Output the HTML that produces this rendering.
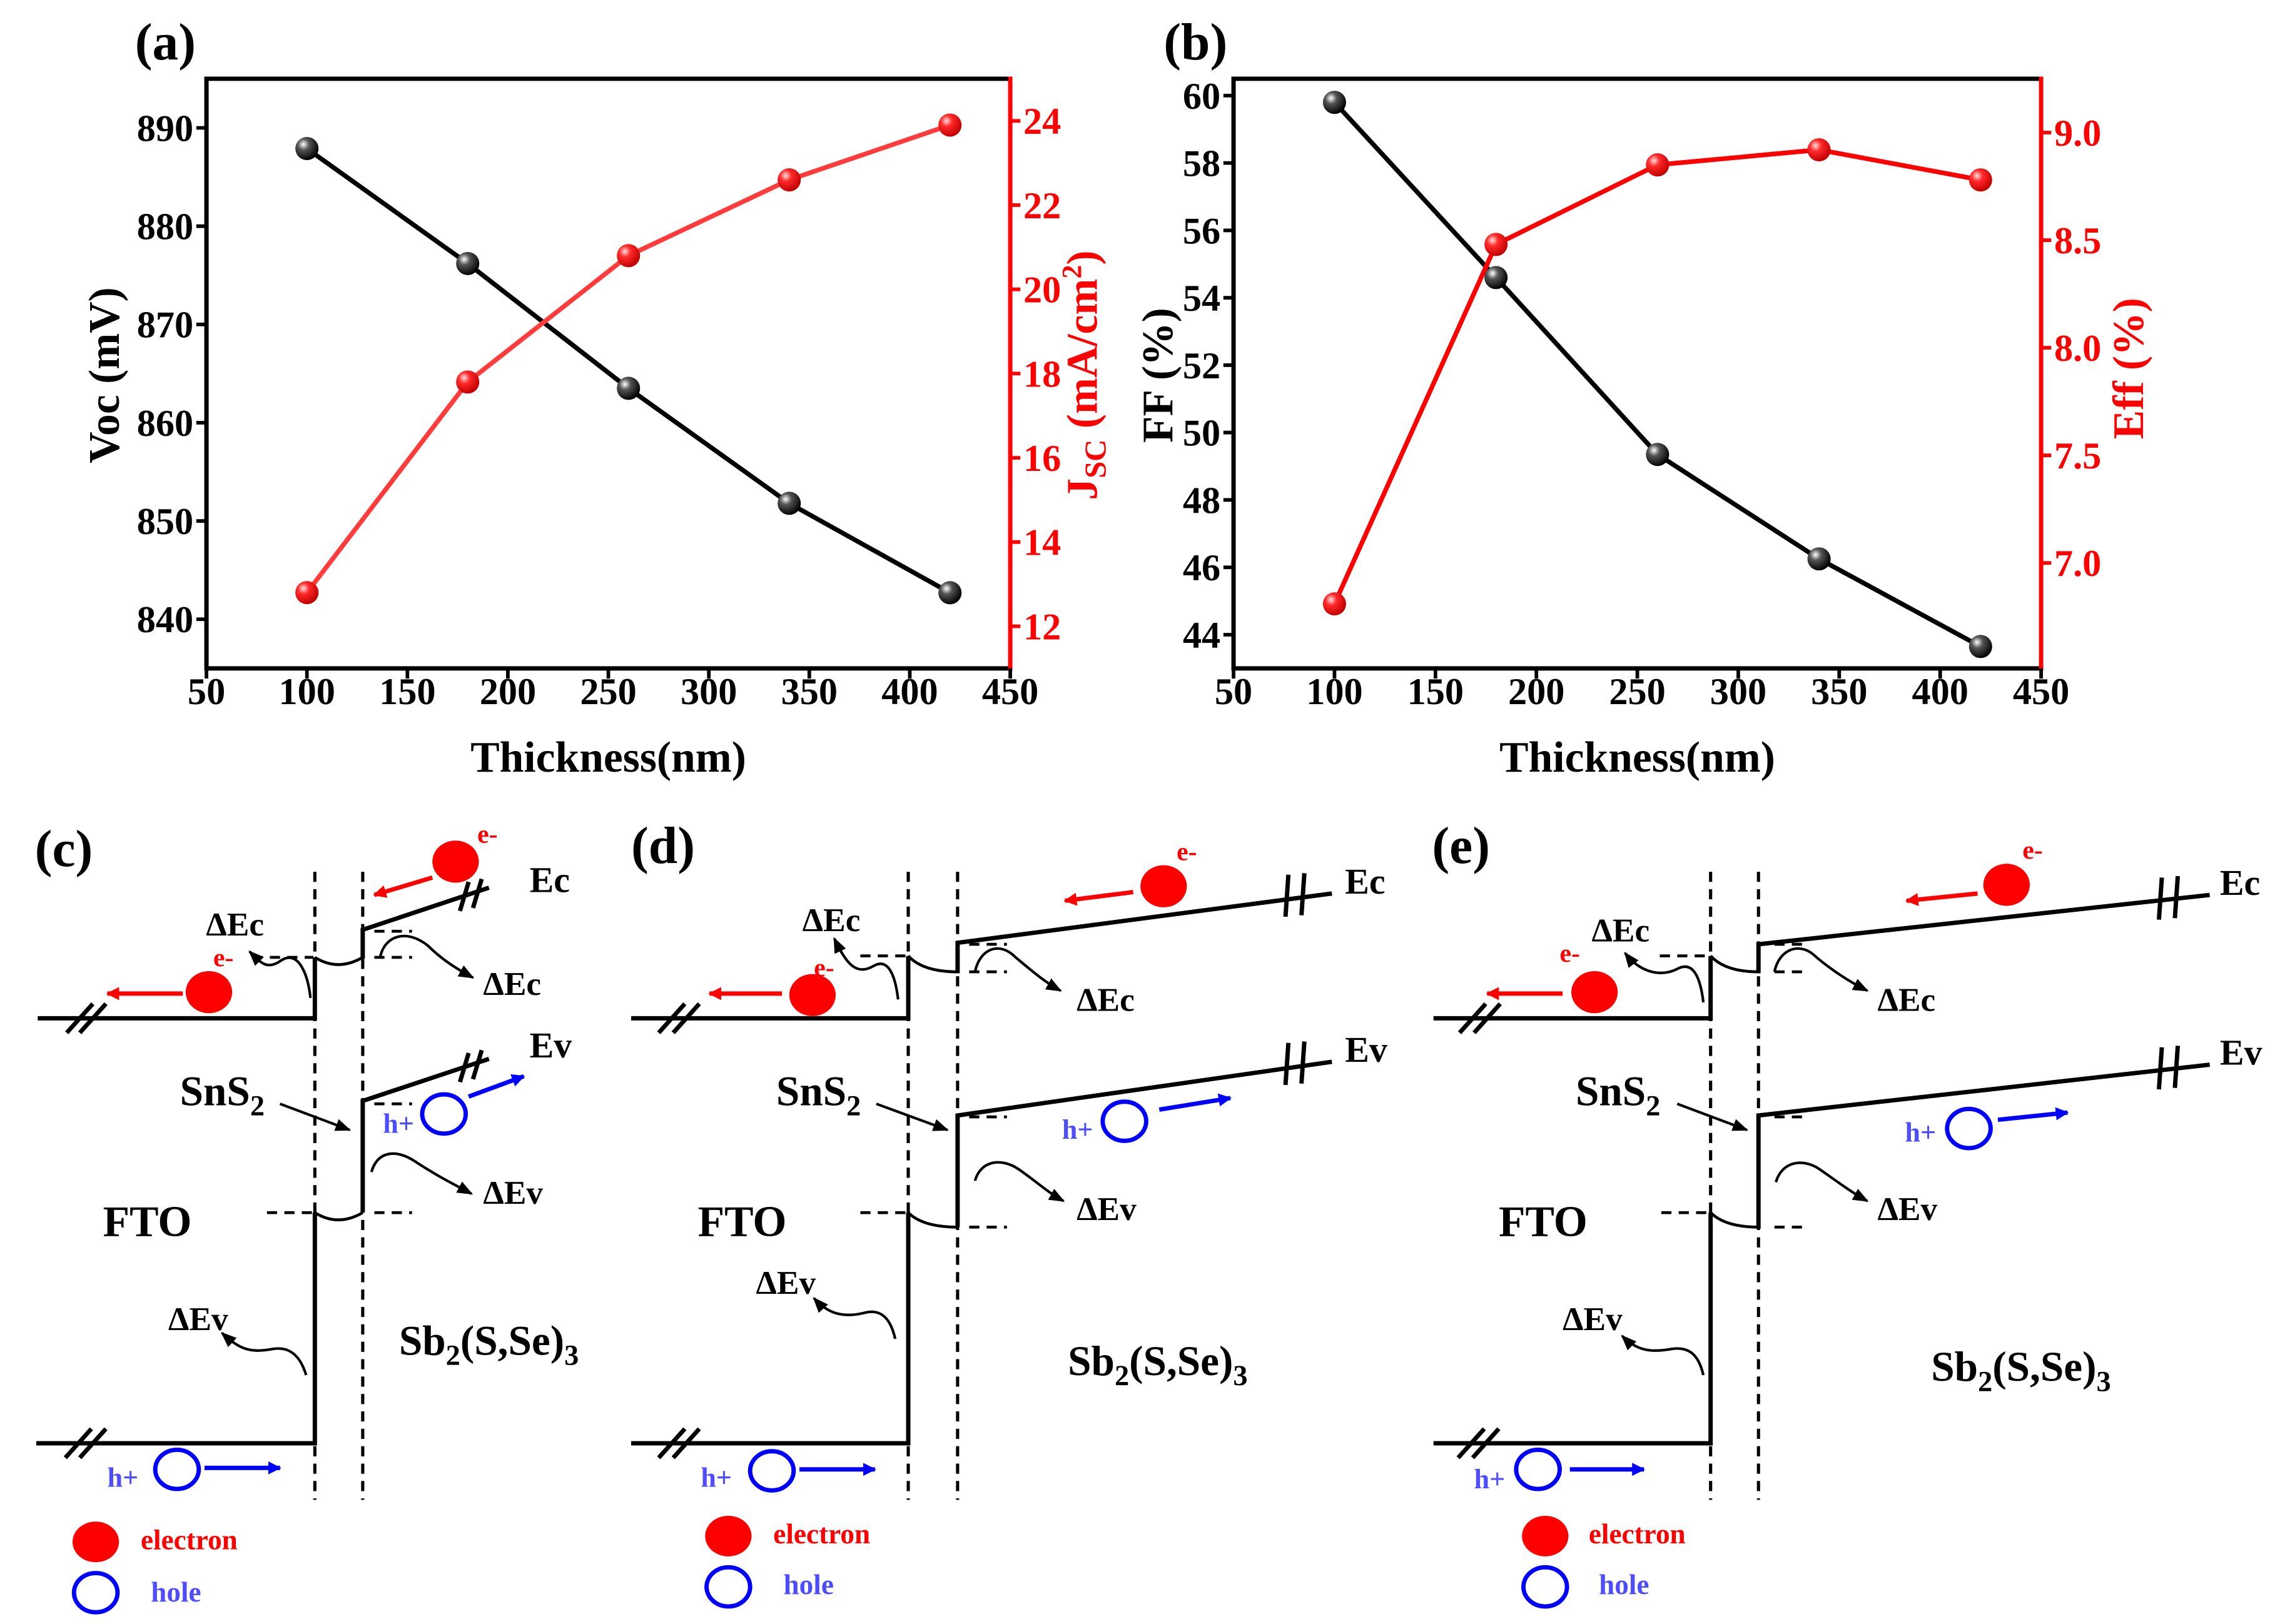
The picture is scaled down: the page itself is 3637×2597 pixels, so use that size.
<!DOCTYPE html>
<html><head><meta charset="utf-8"><style>
html,body{margin:0;padding:0;background:#fff;}
svg{display:block;font-family:"Liberation Serif",serif;}
text{font-family:"Liberation Serif",serif;font-weight:bold;}
</style></head><body>
<svg id="fig" xmlns="http://www.w3.org/2000/svg" width="3637" height="2597" viewBox="0 0 1568 1119.6" preserveAspectRatio="none" font-family="Liberation Serif, serif" font-weight="bold">
<defs>
<radialGradient id="gk" cx="0.35" cy="0.32" r="0.7"><stop offset="0" stop-color="#ffffff"/><stop offset="0.35" stop-color="#555"/><stop offset="1" stop-color="#000"/></radialGradient>
<radialGradient id="gr" cx="0.35" cy="0.32" r="0.7"><stop offset="0" stop-color="#ffe0e0"/><stop offset="0.35" stop-color="#ff2a2a"/><stop offset="1" stop-color="#c00000"/></radialGradient>
<marker id="ak" viewBox="0 0 10 10" refX="9" refY="5" markerWidth="6" markerHeight="6" orient="auto"><path d="M0,1 L10,5 L0,9 z" fill="#000"/></marker>
<marker id="ar" viewBox="0 0 10 10" refX="9" refY="5" markerWidth="3" markerHeight="3" orient="auto"><path d="M0,0 L10,5 L0,10 z" fill="#ff0000"/></marker>
<marker id="ab" viewBox="0 0 10 10" refX="9" refY="5" markerWidth="3" markerHeight="3" orient="auto"><path d="M0,0 L10,5 L0,10 z" fill="#0000ff"/></marker>
</defs>
<g id="charts"></g>

<!-- Panel (c) -->
<g fill="none" stroke="#000">
<text x="24" y="597" font-size="36" fill="#000" stroke="none">(c)</text>
<line x1="217" y1="601" x2="217" y2="1034" stroke-width="2.2" stroke-dasharray="7,5"/>
<line x1="250" y1="601" x2="250" y2="1034" stroke-width="2.2" stroke-dasharray="7,5"/>
<polyline points="26,702 217,702 217,660" stroke-width="3"/>
<path d="M217,660 Q233,670 250,660" stroke-width="2"/>
<polyline points="250,661 250,641 337,612" stroke-width="3"/>
<polyline points="250,836 250,759 337,730" stroke-width="3"/>
<polyline points="25,995 217,995 217,836" stroke-width="3"/>
<path d="M217,836 Q233,846 250,836" stroke-width="2"/>
<g stroke-width="3">
<line x1="46" y1="712" x2="64" y2="692"/><line x1="55" y1="712" x2="73" y2="692"/>
<line x1="45" y1="1005" x2="63" y2="985"/><line x1="55" y1="1005" x2="73" y2="985"/>
<line x1="317" y1="628" x2="323" y2="608"/><line x1="326" y1="626" x2="332" y2="606"/>
<line x1="317" y1="746" x2="323" y2="726"/><line x1="326" y1="744" x2="332" y2="724"/>
</g>
<g stroke-width="2" stroke-dasharray="7,5">
<line x1="174" y1="660" x2="216" y2="660"/><line x1="258" y1="660" x2="284" y2="660"/><line x1="258" y1="642" x2="284" y2="642"/>
<line x1="184" y1="836" x2="216" y2="836"/><line x1="258" y1="836" x2="284" y2="836"/><line x1="258" y1="761" x2="284" y2="761"/>
</g>
<path d="M214,688 C212,670 205,655 194,662 C184,669 180,664 172,656" stroke-width="1.8" marker-end="url(#ak)"/>
<path d="M262,660 C265,645 280,640 295,652 C305,662 315,668 326,674" stroke-width="1.8" marker-end="url(#ak)"/>
<path d="M256,808 C260,794 272,792 285,800 C300,810 312,816 325,823" stroke-width="1.8" marker-end="url(#ak)"/>
<path d="M211,948 C207,935 200,928 188,930 C172,933 165,930 153,919" stroke-width="1.8" marker-end="url(#ak)"/>
<line x1="193" y1="761" x2="241" y2="779" stroke-width="1.8" marker-end="url(#ak)"/>
<line x1="126" y1="685" x2="74" y2="685" stroke="#ff0000" stroke-width="3" marker-end="url(#ar)"/>
<line x1="298" y1="605" x2="258" y2="617" stroke="#ff0000" stroke-width="3" marker-end="url(#ar)"/>
<line x1="323" y1="756" x2="361" y2="742" stroke="#0000ff" stroke-width="3" marker-end="url(#ab)"/>
<line x1="141" y1="1012" x2="193" y2="1012" stroke="#0000ff" stroke-width="3" marker-end="url(#ab)"/>
<ellipse cx="144" cy="684" rx="16" ry="14.5" fill="#ff0000" stroke="none"/>
<ellipse cx="314" cy="594" rx="16" ry="14.5" fill="#ff0000" stroke="none"/>
<ellipse cx="306" cy="768" rx="15" ry="13.5" stroke="#0000ff" stroke-width="3"/>
<ellipse cx="122" cy="1013" rx="15" ry="13.5" stroke="#0000ff" stroke-width="3"/>
<ellipse cx="66" cy="1063" rx="16" ry="14" fill="#ff0000" stroke="none"/>
<ellipse cx="66" cy="1098" rx="15" ry="13.5" stroke="#0000ff" stroke-width="3"/>
<g stroke="none" fill="#000">
<text x="142" y="645" font-size="23">ΔEc</text>
<text x="333" y="686" font-size="23">ΔEc</text>
<text x="333" y="830" font-size="23">ΔEv</text>
<text x="116" y="917" font-size="23">ΔEv</text>
<text x="365" y="615" font-size="25">Ec</text>
<text x="365" y="729" font-size="25">Ev</text>
<text x="71" y="852" font-size="30">FTO</text>
<text x="124" y="762" font-size="29">SnS<tspan font-size="20" dy="7">2</tspan></text>
<text x="275" y="934" font-size="29">Sb<tspan font-size="20" dy="7">2</tspan><tspan dy="-7">(S,Se)</tspan><tspan font-size="20" dy="7">3</tspan></text>
<text x="147" y="666" font-size="18" fill="#ff0000">e-</text>
<text x="329" y="581" font-size="18" fill="#ff0000">e-</text>
<text x="264" y="781" font-size="19" fill="#4d4dff">h+</text>
<text x="74" y="1025" font-size="19" fill="#4d4dff">h+</text>
<text x="97" y="1068" font-size="19.5" fill="#ff0000">electron</text>
<text x="104" y="1104" font-size="19.5" fill="#4d4dff">hole</text>
</g>
</g>

<!-- Panel (d) -->
<g fill="none" stroke="#000">
<text x="435" y="595" font-size="36" fill="#000" stroke="none">(d)</text>
<line x1="626" y1="601" x2="626" y2="1034" stroke-width="2.2" stroke-dasharray="7,5"/>
<line x1="660" y1="601" x2="660" y2="1034" stroke-width="2.2" stroke-dasharray="7,5"/>
<polyline points="435,702 626,702 626,659" stroke-width="3"/>
<path d="M626,659 Q636,670 660,670" stroke-width="2"/>
<polyline points="660,671 660,650 918,616" stroke-width="3"/>
<polyline points="660,846 660,769 918,732" stroke-width="3"/>
<polyline points="435,995 626,995 626,836" stroke-width="3"/>
<path d="M626,836 Q636,846 660,846" stroke-width="2"/>
<g stroke-width="3">
<line x1="454" y1="712" x2="472" y2="692"/><line x1="464" y1="712" x2="482" y2="692"/>
<line x1="454" y1="1005" x2="472" y2="985"/><line x1="464" y1="1005" x2="482" y2="985"/>
<line x1="886" y1="632" x2="888" y2="603"/><line x1="897" y1="631" x2="899" y2="602"/>
<line x1="886" y1="748" x2="888" y2="719"/><line x1="897" y1="747" x2="899" y2="718"/>
</g>
<g stroke-width="2" stroke-dasharray="7,5">
<line x1="593" y1="659" x2="625" y2="659"/><line x1="668" y1="670" x2="694" y2="670"/><line x1="668" y1="651" x2="694" y2="651"/>
<line x1="593" y1="836" x2="625" y2="836"/><line x1="668" y1="846" x2="694" y2="846"/><line x1="668" y1="770" x2="694" y2="770"/>
</g>
<path d="M619,689 C617,672 612,660 602,666 C590,673 583,664 575,647" stroke-width="1.8" marker-end="url(#ak)"/>
<path d="M672,670 C675,655 688,648 700,660 C712,670 720,677 731,683" stroke-width="1.8" marker-end="url(#ak)"/>
<path d="M672,814 C676,800 690,798 702,806 C715,815 722,822 733,828" stroke-width="1.8" marker-end="url(#ak)"/>
<path d="M617,923 C614,910 608,902 596,905 C580,909 570,905 561,895" stroke-width="1.8" marker-end="url(#ak)"/>
<line x1="604" y1="761" x2="653" y2="779" stroke-width="1.8" marker-end="url(#ak)"/>
<line x1="539" y1="685" x2="489" y2="685" stroke="#ff0000" stroke-width="3" marker-end="url(#ar)"/>
<line x1="781" y1="615" x2="734" y2="621" stroke="#ff0000" stroke-width="3" marker-end="url(#ar)"/>
<line x1="799" y1="765" x2="848" y2="757" stroke="#0000ff" stroke-width="3" marker-end="url(#ab)"/>
<line x1="551" y1="1013" x2="603" y2="1013" stroke="#0000ff" stroke-width="3" marker-end="url(#ab)"/>
<ellipse cx="560" cy="686" rx="16" ry="14.5" fill="#ff0000" stroke="none"/>
<ellipse cx="802" cy="611" rx="16" ry="14.5" fill="#ff0000" stroke="none"/>
<ellipse cx="775" cy="773" rx="15" ry="13.5" stroke="#0000ff" stroke-width="3"/>
<ellipse cx="532" cy="1014" rx="15" ry="13.5" stroke="#0000ff" stroke-width="3"/>
<ellipse cx="502" cy="1059" rx="16" ry="14" fill="#ff0000" stroke="none"/>
<ellipse cx="502" cy="1094" rx="15" ry="13.5" stroke="#0000ff" stroke-width="3"/>
<g stroke="none" fill="#000">
<text x="553" y="642" font-size="23">ΔEc</text>
<text x="742" y="697" font-size="23">ΔEc</text>
<text x="742" y="841" font-size="23">ΔEv</text>
<text x="521" y="892" font-size="23">ΔEv</text>
<text x="927" y="616" font-size="25">Ec</text>
<text x="927" y="732" font-size="25">Ev</text>
<text x="481" y="852" font-size="30">FTO</text>
<text x="535" y="762" font-size="29">SnS<tspan font-size="20" dy="7">2</tspan></text>
<text x="736" y="948" font-size="29">Sb<tspan font-size="20" dy="7">2</tspan><tspan dy="-7">(S,Se)</tspan><tspan font-size="20" dy="7">3</tspan></text>
<text x="561" y="673" font-size="18" fill="#ff0000">e-</text>
<text x="811" y="593" font-size="18" fill="#ff0000">e-</text>
<text x="732" y="785" font-size="19" fill="#4d4dff">h+</text>
<text x="483" y="1025" font-size="19" fill="#4d4dff">h+</text>
<text x="533" y="1064" font-size="19.5" fill="#ff0000">electron</text>
<text x="540" y="1099" font-size="19.5" fill="#4d4dff">hole</text>
</g>
</g>

<!-- Panel (e) -->
<g fill="none" stroke="#000">
<text x="987" y="595" font-size="36" fill="#000" stroke="none">(e)</text>
<line x1="1179" y1="601" x2="1179" y2="1034" stroke-width="2.2" stroke-dasharray="7,5"/>
<line x1="1212" y1="601" x2="1212" y2="1034" stroke-width="2.2" stroke-dasharray="7,5"/>
<polyline points="988,702 1179,702 1179,659" stroke-width="3"/>
<path d="M1179,659 Q1189,670 1212,670" stroke-width="2"/>
<polyline points="1212,671 1212,651 1523,617" stroke-width="3"/>
<polyline points="1212,847 1212,769 1523,734" stroke-width="3"/>
<polyline points="988,995 1179,995 1179,836" stroke-width="3"/>
<path d="M1179,836 Q1189,846 1212,846" stroke-width="2"/>
<g stroke-width="3">
<line x1="1006" y1="712" x2="1024" y2="692"/><line x1="1016" y1="712" x2="1034" y2="692"/>
<line x1="1005" y1="1005" x2="1023" y2="985"/><line x1="1015" y1="1005" x2="1033" y2="985"/>
<line x1="1488" y1="634" x2="1490" y2="605"/><line x1="1499" y1="633" x2="1501" y2="604"/>
<line x1="1488" y1="751" x2="1490" y2="722"/><line x1="1499" y1="750" x2="1501" y2="721"/>
</g>
<g stroke-width="2" stroke-dasharray="7,5">
<line x1="1144" y1="659" x2="1178" y2="659"/><line x1="1223" y1="670" x2="1246" y2="670"/><line x1="1223" y1="651" x2="1246" y2="651"/>
<line x1="1145" y1="836" x2="1178" y2="836"/><line x1="1223" y1="846" x2="1246" y2="846"/><line x1="1223" y1="770" x2="1246" y2="770"/>
</g>
<path d="M1174,691 C1172,674 1167,662 1156,668 C1144,674 1130,670 1120,657" stroke-width="1.8" marker-end="url(#ak)"/>
<path d="M1223,670 C1226,655 1240,648 1252,660 C1264,670 1275,677 1287,683" stroke-width="1.8" marker-end="url(#ak)"/>
<path d="M1224,815 C1228,801 1242,798 1254,806 C1267,815 1276,822 1287,828" stroke-width="1.8" marker-end="url(#ak)"/>
<path d="M1174,948 C1171,935 1165,928 1152,930 C1136,933 1127,930 1118,921" stroke-width="1.8" marker-end="url(#ak)"/>
<line x1="1156" y1="761" x2="1204" y2="779" stroke-width="1.8" marker-end="url(#ak)"/>
<line x1="1077" y1="685" x2="1025" y2="685" stroke="#ff0000" stroke-width="3" marker-end="url(#ar)"/>
<line x1="1363" y1="616" x2="1314" y2="621" stroke="#ff0000" stroke-width="3" marker-end="url(#ar)"/>
<line x1="1377" y1="772" x2="1425" y2="767" stroke="#0000ff" stroke-width="3" marker-end="url(#ab)"/>
<line x1="1082" y1="1013" x2="1133" y2="1013" stroke="#0000ff" stroke-width="3" marker-end="url(#ab)"/>
<ellipse cx="1099" cy="684" rx="16" ry="14.5" fill="#ff0000" stroke="none"/>
<ellipse cx="1383" cy="610" rx="16" ry="14.5" fill="#ff0000" stroke="none"/>
<ellipse cx="1357" cy="778" rx="15" ry="13.5" stroke="#0000ff" stroke-width="3"/>
<ellipse cx="1060" cy="1013" rx="15" ry="13.5" stroke="#0000ff" stroke-width="3"/>
<ellipse cx="1065" cy="1059" rx="16" ry="14" fill="#ff0000" stroke="none"/>
<ellipse cx="1065" cy="1094" rx="15" ry="13.5" stroke="#0000ff" stroke-width="3"/>
<g stroke="none" fill="#000">
<text x="1097" y="649" font-size="23">ΔEc</text>
<text x="1294" y="697" font-size="23">ΔEc</text>
<text x="1294" y="841" font-size="23">ΔEv</text>
<text x="1077" y="917" font-size="23">ΔEv</text>
<text x="1530" y="617" font-size="25">Ec</text>
<text x="1530" y="734" font-size="25">Ev</text>
<text x="1033" y="852" font-size="30">FTO</text>
<text x="1086" y="762" font-size="29">SnS<tspan font-size="20" dy="7">2</tspan></text>
<text x="1331" y="952" font-size="29">Sb<tspan font-size="20" dy="7">2</tspan><tspan dy="-7">(S,Se)</tspan><tspan font-size="20" dy="7">3</tspan></text>
<text x="1075" y="663" font-size="18" fill="#ff0000">e-</text>
<text x="1394" y="592" font-size="18" fill="#ff0000">e-</text>
<text x="1313" y="787" font-size="19" fill="#4d4dff">h+</text>
<text x="1016" y="1026" font-size="19" fill="#4d4dff">h+</text>
<text x="1095" y="1064" font-size="19.5" fill="#ff0000">electron</text>
<text x="1102" y="1099" font-size="19.5" fill="#4d4dff">hole</text>
</g>
</g>
</svg>
<script>
const thickness = [100, 180, 260, 340, 420];
const vocValues = [887.9, 876.2, 863.5, 851.8, 842.7];
const jscValues = [12.8, 17.8, 20.8, 22.6, 23.9];
const ffValues = [59.8, 54.6, 49.35, 46.25, 43.65];
const effValues = [6.81, 8.48, 8.85, 8.92, 8.78];
const xTicks = [50, 100, 150, 200, 250, 300, 350, 400, 450];
const vocTicks = [840, 850, 860, 870, 880, 890];
const jscTicks = [12, 14, 16, 18, 20, 22, 24];
const ffTicks = [44, 46, 48, 50, 52, 54, 56, 58, 60];
const effTicks = [7.0, 7.5, 8.0, 8.5, 9.0];
const effTickLabels = ["7.0", "7.5", "8.0", "8.5", "9.0"];

const NS = "http://www.w3.org/2000/svg";
const root = document.getElementById("charts");
function mk(tag, attrs, parent) {
  const e = document.createElementNS(NS, tag);
  for (const k in attrs) e.setAttribute(k, attrs[k]);
  (parent || root).appendChild(e);
  return e;
}

function drawChart(cfg) {
  const g = mk("g", {});
  
  
  const L = cfg.left, R = cfg.right, T = 54.3, B = 460.8;
  const sx = v => L + (v - 50) / 400 * (R - L);
  const syL = v => B - (v - cfg.lmin) / (cfg.lmax - cfg.lmin) * (B - T);
  const syR = v => B - (v - cfg.rmin) / (cfg.rmax - cfg.rmin) * (B - T);

  const fr = mk("polyline", {points: `${R},${T} ${L},${T} ${L},${B} ${R},${B}`, fill: "none", stroke: "#000", "stroke-width": 3}, g);
  
  
  const ra = mk("line", {x1: R, y1: T - 1.5, x2: R, y2: B + 1.5, stroke: "#ff0000", "stroke-width": 3}, g);
  
  

  xTicks.forEach(v => {
    const x = sx(v);
    const t = mk("line", {x1: x, y1: B, x2: x, y2: B + 7, stroke: "#000", "stroke-width": 2.5}, g);
    
    
    const tl = mk("text", {x: x, y: 485.5, "font-size": 26, "text-anchor": "middle", fill: "#000"}, g);
    
    
    tl.textContent = v;
  });
  cfg.lticks.forEach(v => {
    const y = syL(v);
    const t = mk("line", {x1: L - 7, y1: y, x2: L, y2: y, stroke: "#000", "stroke-width": 2.5}, g);
    
    
    const tl = mk("text", {x: L - 9, y: y + 9, "font-size": 26, "text-anchor": "end", fill: "#000"}, g);
    
    
    tl.textContent = v;
  });
  cfg.rticks.forEach((v, i) => {
    const y = syR(v);
    const t = mk("line", {x1: R, y1: y, x2: R + 7, y2: y, stroke: "#ff0000", "stroke-width": 2.5}, g);
    
    
    const tl = mk("text", {x: R + 9, y: y + 9, "font-size": 26, "text-anchor": "start", fill: "#ff0000"}, g);
    
    
    tl.textContent = cfg.rlabels ? cfg.rlabels[i] : v;
  });

  const lp = mk("polyline", {points: thickness.map((t, i) => `${sx(t)},${syL(cfg.lvals[i])}`).join(" "), fill: "none", stroke: "#000", "stroke-width": 3.2}, g);
  
  
  const rp = mk("polyline", {points: thickness.map((t, i) => `${sx(t)},${syR(cfg.rvals[i])}`).join(" "), fill: "none", stroke: cfg.rcolor, "stroke-width": 3.2}, g);
  
  
  thickness.forEach((t, i) => {
    const c = mk("circle", {cx: sx(t), cy: syL(cfg.lvals[i]), r: 8, fill: "url(#gk)"}, g);
    
    
  });
  thickness.forEach((t, i) => {
    const c = mk("circle", {cx: sx(t), cy: syR(cfg.rvals[i]), r: 8, fill: "url(#gr)"}, g);
    
    
  });

  const xt = mk("text", {x: (L + R) / 2, y: 532, "font-size": 30, "text-anchor": "middle", fill: "#000"}, g);
  
  
  xt.textContent = "Thickness(nm)";
  const lt = mk("text", {x: cfg.ltx, y: 258.7, "font-size": 30, "text-anchor": "middle", fill: "#000", transform: `rotate(-90 ${cfg.ltx} 258.7)`}, g);
  
  
  lt.innerHTML = cfg.ltitle;
  const rt = mk("text", {x: cfg.rtx, y: cfg.rty, "font-size": 30, "text-anchor": "middle", fill: "#ff0000", transform: `rotate(-90 ${cfg.rtx} ${cfg.rty})`}, g);
  
  
  rt.innerHTML = cfg.rtitle;
  const pl = mk("text", {x: cfg.plx, y: 41, "font-size": 36, fill: "#000"}, g);
  
  
  pl.textContent = "(" + cfg.panel.slice(-1) + ")";
}

drawChart({name: "chart-a-voc-jsc", panel: "panel-a", left: 142.3, right: 696.3, lmin: 835, lmax: 895, rmin: 11, rmax: 25,
  lticks: vocTicks, rticks: jscTicks, lvals: vocValues, rvals: jscValues, lname: "voc", rname: "jsc", rcolor: "#ff3b3b",
  ltx: 82, rtx: 756, rty: 258.7, plx: 93, ltitle: "Voc (mV)",
  rtitle: 'J<tspan font-size="21" dy="6">SC</tspan><tspan dy="-6"> (mA/cm</tspan><tspan font-size="19" dy="-11">2</tspan><tspan dy="11">)</tspan>'});
drawChart({name: "chart-b-ff-eff", panel: "panel-b", left: 850.2, right: 1406.8, lmin: 43, lmax: 60.5, rmin: 6.51, rmax: 9.25,
  lticks: ffTicks, rticks: effTicks, rlabels: effTickLabels, lvals: ffValues, rvals: effValues, lname: "ff", rname: "eff", rcolor: "#ff0000",
  ltx: 808, rtx: 1477, rty: 254, plx: 802, ltitle: "FF (%)", rtitle: "Eff (%)"});
</script>
</body></html>
